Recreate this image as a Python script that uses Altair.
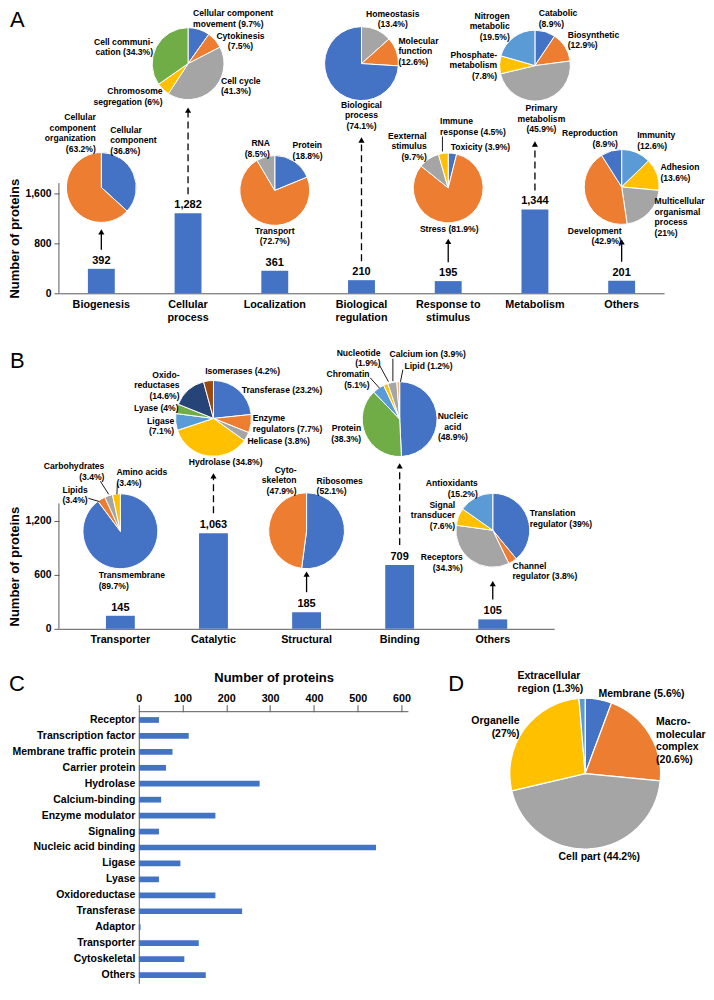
import altair as alt
import pandas as pd
import math

FONT = "Liberation Sans"

# ====================== DATA ======================
# ---- Panel A : biological process ----
a_categories = ["Biogenesis", "Cellular process", "Localization", "Biological regulation",
                "Response to stimulus", "Metabolism", "Others"]
a_counts = [392, 1282, 361, 210, 195, 1344, 201]
a_ticks = [0, 800, 1600]

biogenesis_slices = ["Cellular component", "Cellular component organization"]
biogenesis_pct = [36.8, 63.2]
cellproc_slices = ["Cellular component movement", "Cytokinesis", "Cell cycle",
                   "Chromosome segregation", "Cell communication"]
cellproc_pct = [9.7, 7.5, 41.3, 6, 34.3]
local_slices = ["Protein", "Transport", "RNA"]
local_pct = [18.8, 72.7, 8.5]
bioreg_slices = ["Homeostasis", "Molecular function", "Biological process"]
bioreg_pct = [13.4, 12.6, 74.1]
response_slices = ["Toxicity", "Stress", "Eexternal stimulus", "Immune response"]
response_pct = [3.9, 81.9, 9.7, 4.5]
metab_slices = ["Catabolic", "Biosynthetic", "Primary metabolism", "Phosphate-metabolism",
                "Nitrogen metabolic"]
metab_pct = [8.9, 12.9, 45.9, 7.8, 19.5]
aothers_slices = ["Immunity", "Adhesion", "Multicellular organismal process", "Development",
                  "Reproduction"]
aothers_pct = [12.6, 13.6, 21, 42.9, 8.9]

# ---- Panel B : molecular function ----
b_categories = ["Transporter", "Catalytic", "Structural", "Binding", "Others"]
b_counts = [145, 1063, 185, 709, 105]
b_ticks = [0, 600, 1200]

transp_slices = ["Transmembrane", "Lipids", "Carbohydrates", "Amino acids"]
transp_pct = [89.7, 3.4, 3.4, 3.4]
catal_slices = ["Transferase", "Enzyme regulators", "Helicase", "Hydrolase", "Ligase", "Lyase",
                "Oxidoreductases", "Isomerases"]
catal_pct = [23.2, 7.7, 3.8, 34.8, 7.1, 4, 14.6, 4.2]
struct_slices = ["Ribosomes", "Cytoskeleton"]
struct_pct = [52.1, 47.9]
binding_slices = ["Nucleic acid", "Protein", "Chromatin", "Nucleotide", "Calcium ion", "Lipid"]
binding_pct = [48.9, 38.3, 5.1, 1.9, 3.9, 1.2]
bothers_slices = ["Translation regulator", "Channel regulator", "Receptors", "Signal transducer",
                  "Antioxidants"]
bothers_pct = [39, 3.8, 34.3, 7.6, 15.2]

# ---- Panel C : protein class ----
c_categories = ["Receptor", "Transcription factor", "Membrane traffic protein", "Carrier protein",
                "Hydrolase", "Calcium-binding", "Enzyme modulator", "Signaling",
                "Nucleic acid binding", "Ligase", "Lyase", "Oxidoreductase", "Transferase",
                "Adaptor", "Transporter", "Cytoskeletal", "Others"]
c_counts = [46, 114, 77, 62, 276, 51, 175, 46, 542, 95, 46, 175, 236, 4, 137, 104, 153]
c_ticks = [0, 100, 200, 300, 400, 500, 600]
c_axis_max = 616

# ---- Panel D : cellular component ----
d_slices = ["Membrane", "Macromolecular complex", "Cell part", "Organelle", "Extracellular region"]
d_pct = [5.6, 20.6, 44.2, 27, 1.3]

# ====================== STYLE / LAYOUT ======================
BLUE = "#4472C4"; ORANGE = "#ED7D31"; GRAY = "#A5A5A5"; YELLOW = "#FFC000"
LBLUE = "#5B9BD5"; GREEN = "#70AD47"; NAVY = "#264478"; BROWN = "#9E480E"; PEACH = "#F4B183"
AXIS_GRAY = "#595959"

A_PIES = {
    "Biogenesis": (biogenesis_slices, biogenesis_pct),
    "Cellular process": (cellproc_slices, cellproc_pct),
    "Localization": (local_slices, local_pct),
    "Biological regulation": (bioreg_slices, bioreg_pct),
    "Response to stimulus": (response_slices, response_pct),
    "Metabolism": (metab_slices, metab_pct),
    "Others": (aothers_slices, aothers_pct),
}
B_PIES = {
    "Transporter": (transp_slices, transp_pct),
    "Catalytic": (catal_slices, catal_pct),
    "Structural": (struct_slices, struct_pct),
    "Binding": (binding_slices, binding_pct),
    "Others": (bothers_slices, bothers_pct),
}

# h: pie centre height above the bar baseline (px), r: radius (px)
# labels: (text, dx, dy, align) relative to the pie centre (dy = centre of text block)
# leaders: (x1, y1, x2, y2) short connector lines relative to the pie centre
A_LAYOUT = {
    "Biogenesis": dict(h=106, r=35, colors=[BLUE, ORANGE], labels=[
        ("Cellular\ncomponent\n({p}%)", 9, -47, "left"),
        ("Cellular\ncomponent\norganization\n({p}%)", -5.5, -54, "right")]),
    "Cellular process": dict(h=230, r=36, colors=[BLUE, ORANGE, GRAY, YELLOW, GREEN], labels=[
        ("Cellular component\nmovement ({p}%)", 5, -45, "left"),
        ("Cytokinesis\n({p}%)", 52.5, -22.5, "center"),
        ("Cell cycle\n({p}%)", 33, 22.7, "left"),
        ("Chromosome\nsegregation ({p}%)", -25.5, 33, "right"),
        ("Cell communi-\ncation ({p}%)", -35, -16.3, "right")]),
    "Localization": dict(h=103, r=35, colors=[BLUE, ORANGE, GRAY], labels=[
        ("Protein\n({p}%)", 17.8, -39.5, "left"),
        ("Transport\n({p}%)", 0, 45.7, "center"),
        ("RNA\n({p}%)", -4.8, -41.5, "right")]),
    "Biological regulation": dict(h=230, r=37, colors=[GRAY, ORANGE, BLUE], labels=[
        ("Homeostasis\n({p}%)", 31.3, -44.2, "center"),
        ("Molecular\nfunction\n({p}%)", 37, -12, "left"),
        ("Biological\nprocess\n({p}%)", 0, 52, "center")]),
    "Response to stimulus": dict(h=105.5, r=35, colors=[BLUE, ORANGE, GRAY, YELLOW], labels=[
        ("Toxicity ({p}%)", 2.5, -40.5, "left"),
        ("Stress ({p}%)", 1, 41, "center"),
        ("Eexternal\nstimulus\n({p}%)", -21.5, -41.5, "right"),
        ("Immune\nresponse ({p}%)", -8.2, -61.2, "left")],
        leaders=[(-5.8, -51.5, -5.8, -36.5)]),
    "Metabolism": dict(h=228, r=35.5, colors=[BLUE, ORANGE, GRAY, YELLOW, LBLUE], labels=[
        ("Catabolic\n({p}%)", 3.8, -46.7, "left"),
        ("Biosynthetic\n({p}%)", 32.8, -25.2, "left"),
        ("Primary\nmetabolism\n({p}%)", 6.5, 53.5, "center"),
        ("Phosphate-\nmetabolism\n({p}%)", -37.8, 0, "right"),
        ("Nitrogen\nmetabolic\n({p}%)", -25.2, -39, "right")]),
    "Others": dict(h=106.5, r=37.5, colors=[LBLUE, YELLOW, GRAY, ORANGE, BLUE], labels=[
        ("Immunity\n({p}%)", 15.5, -46, "left"),
        ("Adhesion\n({p}%)", 38.8, -14.3, "left"),
        ("Multicellular\norganismal\nprocess\n({p}%)", 33, 30.3, "left"),
        ("Development\n({p}%)", 0, 49.2, "right"),
        ("Reproduction\n({p}%)", -3.8, -48.3, "right")]),
}
B_LAYOUT = {
    "Transporter": dict(h=97.7, r=37.5, colors=[BLUE, ORANGE, GRAY, YELLOW], labels=[
        ("Transmembrane\n({p}%)", -21.7, 49.5, "left"),
        ("Lipids\n({p}%)", -32.7, -35.8, "right"),
        ("Carbohydrates\n({p}%)", -16, -59.7, "right"),
        ("Amino acids\n({p}%)", -4, -53.3, "left")],
        leaders=[(-32, -33, -21, -29.7), (-20, -50, -11.7, -37), (-3, -48, -3.5, -37)]),
    "Catalytic": dict(h=210.7, r=38, colors=[BLUE, ORANGE, GRAY, YELLOW, LBLUE, GREEN, NAVY, BROWN], labels=[
        ("Transferase ({p}%)", 28.3, -28.3, "left"),
        ("Enzyme\nregulators ({p}%)", 39.3, 5.3, "left"),
        ("Helicase ({p}%)", 34, 23.3, "left"),
        ("Hydrolase ({p}%)", 12.2, 44.3, "center"),
        ("Ligase\n({p}%)", -39.3, 8, "right"),
        ("Lyase ({p}%)", -35, -10, "right"),
        ("Oxido-\nreductases\n({p}%)", -34, -32.8, "right"),
        ("Isomerases ({p}%)", -8.3, -46.7, "left")]),
    "Structural": dict(h=98.2, r=38, colors=[BLUE, ORANGE], labels=[
        ("Ribosomes\n({p}%)", 10, -44.5, "left"),
        ("Cyto-\nskeleton\n({p}%)", -10, -50.3, "right")]),
    "Binding": dict(h=210, r=37.5, colors=[BLUE, GREEN, LBLUE, YELLOW, GRAY, PEACH], labels=[
        ("Nucleic\nacid\n({p}%)", 53.3, 7.9, "center"),
        ("Protein\n({p}%)", -38.5, 14.8, "right"),
        ("Chromatin\n({p}%)", -30.2, -39.4, "right"),
        ("Nucleotide\n({p}%)", -19.2, -60.7, "right"),
        ("Calcium ion ({p}%)", -10.2, -64.7, "left"),
        ("Lipid ({p}%)", 4.8, -52.4, "left")],
        leaders=[(-20.2, -54, -11.2, -37.4), (-29.5, -41.4, -20.2, -31),
                 (-6.8, -60.5, -6.8, -38), (3.2, -49.5, 0.8, -37.4)]),
    "Others": dict(h=98.7, r=37, colors=[BLUE, ORANGE, GRAY, YELLOW, LBLUE], labels=[
        ("Translation\nregulator ({p}%)", 37, -11.7, "left"),
        ("Channel\nregulator ({p}%)", 19.7, 41, "left"),
        ("Receptors\n({p}%)", -30, 32.7, "right"),
        ("Signal\ntransducer\n({p}%)", -37.7, -14.8, "right"),
        ("Antioxidants\n({p}%)", -15, -41.7, "right")]),
}
D_LAYOUT = dict(r=75.5, colors=[BLUE, ORANGE, GRAY, YELLOW, LBLUE], labels=[
    ("Membrane ({p}%)", 13.3, -79.3, "left"),
    ("Macro-\nmolecular\ncomplex\n({p}%)", 71, -32.2, "left"),
    ("Cell part ({p}%)", 14.1, 84, "center"),
    ("Organelle\n({p}%)", -65.7, -46, "right"),
    ("Extracellular\nregion ({p}%)", -67.7, -90.7, "left")])

# arrow tip distance below pie centre (px)
A_ARROWS = {"Biogenesis": 41, "Cellular process": 43, "Biological regulation": 73,
            "Response to stimulus": 50, "Metabolism": 75, "Others": 51.5}
B_ARROWS = {"Catalytic": 54, "Structural": 40, "Binding": 43.3, "Others": 50}

A_XLABELS = {"Cellular process": ["Cellular", "process"],
             "Biological regulation": ["Biological", "regulation"],
             "Response to stimulus": ["Response to", "stimulus"]}

A_GEOM = dict(W=606, H=284, pi=0.69, po=0.334, ppu=0.0625, axis_top=1765, arrow_base=19,
              letter=("A", -49, 17.5))
B_GEOM = dict(W=496, H=281, pi=0.69, po=0.505, ppu=0.09, axis_top=1395, arrow_base=20,
              letter=("B", -49, 20))

PIE_FS, PIE_LH = 8.6, 10.5
D_FS, D_LH = 10.5, 12.6
C_W, C_H, C_ROOM = 270, 272, 80     # plot width right of zero, height, label room left of zero
D_W, D_H, D_CY = 238, 172, 62       # panel D plot size and pie centre height below its top


def arc_rows(slices, pct, colors, extra):
    tot = float(sum(pct))
    rows, c = [], 0.0
    for s, p, col in zip(slices, pct, colors):
        r = dict(slice=s, t0=c / tot * 2 * math.pi, t1=(c + p) / tot * 2 * math.pi, col=col)
        r.update(extra)
        rows.append(r)
        c += p
    return rows


def label_layers(labels, pct, extra, fs, lh, enc):
    out = []
    for (tmpl, dx, dy, align), p in zip(labels, pct):
        n = tmpl.count("\n") + 1
        top = dy - ((n - 1) * lh + fs) / 2.0
        row = dict(txt=tmpl.format(p=f"{p:g}"))
        row.update(extra)
        out.append(alt.Chart(pd.DataFrame([row])).mark_text(
            align=align, baseline="top", lineBreak="\n", fontSize=fs, lineHeight=lh,
            fontWeight="bold", color="black", dx=dx, dy=top).encode(text="txt:N", **enc))
    return out


def leader_layers(leaders, extra, enc):
    out = []
    for (x1, y1, x2, y2) in leaders:
        hx, hy = (x2 - x1) / 2.0, (y2 - y1) / 2.0
        L = max(abs(hx), abs(hy))
        path = f"M{hx / L:.3f},{hy / L:.3f}L{-hx / L:.3f},{-hy / L:.3f}"
        out.append(alt.Chart(pd.DataFrame([extra])).mark_point(
            shape=path, size=4 * L * L, filled=False, color="black", strokeWidth=0.9,
            opacity=1, xOffset=(x1 + x2) / 2.0, yOffset=(y1 + y2) / 2.0).encode(**enc))
    return out


def label_expr(mapping):
    expr = "datum.label"
    for k, lines in mapping.items():
        arr = "[" + ", ".join("'" + l + "'" for l in lines) + "]"
        expr = f"datum.label == '{k}' ? {arr} : ({expr})"
    return expr


def letter_layer(letter, lx, ly):
    return alt.Chart(pd.DataFrame({"t": [letter]})).mark_text(
        align="left", baseline="alphabetic", fontSize=22, fontWeight="normal", color="black"
    ).encode(x=alt.value(lx), y=alt.value(ly), text="t:N")


def bar_panel(cats, counts, ticks, pies, layout, arrows, g, xlabels):
    W, H, pi, po, ppu = g["W"], g["H"], g["pi"], g["po"], g["ppu"]
    ymax = H / ppu
    xs = alt.Scale(domain=cats, paddingInner=pi, paddingOuter=po)
    ys = alt.Scale(domain=[0, ymax], nice=False, zero=True)
    xaxis = alt.Axis(title=None, labelAngle=0, ticks=False, labelExpr=label_expr(xlabels),
                     labelFontSize=10.8, labelFontWeight="bold", labelColor="black",
                     labelPadding=5, labelLineHeight=13, domainColor=AXIS_GRAY, labelLimit=200)
    yaxis = alt.Axis(values=ticks, labelExpr="format(datum.value, ',d')",
                     title="Number of proteins",
                     titleY=H - g["axis_top"] * ppu / 2, grid=False, domain=False, tickSize=5,
                     tickColor=AXIS_GRAY, labelFontSize=10.4, labelFontWeight="bold",
                     labelColor="black", labelPadding=3, titlePadding=3, titleFontSize=13,
                     titleFontWeight="bold", titleColor="black")

    def X(**kw):
        return alt.X("cat:N", sort=cats, scale=xs, axis=xaxis, **kw)

    def Y(field):
        return alt.Y(field, type="quantitative", scale=ys, stack=False, axis=yaxis)

    df = pd.DataFrame({"cat": cats, "count": counts})
    bars = alt.Chart(df).mark_bar(color=BLUE).encode(x=X(), y=Y("count"))
    vals = alt.Chart(df).mark_text(baseline="bottom", dy=-3, fontSize=11, fontWeight="bold",
                                   color="black").encode(
        x=X(bandPosition=0.5), y=Y("count"), text=alt.Text("count:Q", format=","))
    yline = alt.Chart(pd.DataFrame({"y0": [0], "y1": [g["axis_top"]]})).mark_rule(
        color=AXIS_GRAY, strokeWidth=1).encode(x=alt.value(0), y=Y("y0"), y2=alt.Y2("y1"))

    arcs, labs, leads = [], [], []
    for cat, (slices, pct) in pies.items():
        lay = layout[cat]
        extra = dict(cat=cat, yc=lay["h"] / ppu)
        enc = dict(x=X(bandPosition=0.5), y=Y("yc"))
        arcs.append(alt.Chart(pd.DataFrame(arc_rows(slices, pct, lay["colors"], extra))).mark_arc(
            outerRadius=lay["r"], stroke="white", strokeWidth=1).encode(
            theta=alt.Theta("t0:Q", scale=None, stack=False), theta2=alt.Theta2("t1"),
            color=alt.Color("col:N", scale=None), **enc))
        labs += label_layers(lay["labels"], pct, extra, PIE_FS, PIE_LH, enc)
        leads += leader_layers(lay.get("leaders", []), extra, enc)

    arows = []
    for cat, gap in arrows.items():
        i = cats.index(cat)
        bottom_px = counts[i] * ppu + g["arrow_base"]
        tip_px = layout[cat]["h"] - gap
        arows.append(dict(cat=cat, yb=bottom_px / ppu, yt=(tip_px - 5) / ppu,
                          ytri=(tip_px - 3.5) / ppu, dashed=(tip_px - bottom_px) > 30))
    adf = pd.DataFrame(arows)
    arrow_layers = []
    for dashed in (True, False):
        sub = adf[adf["dashed"] == dashed]
        if len(sub) == 0:
            continue
        mk = dict(color="black", strokeWidth=1.3)
        if dashed:
            mk["strokeDash"] = [7, 4]
        arrow_layers.append(alt.Chart(sub).mark_rule(**mk).encode(
            x=X(bandPosition=0.5), y=Y("yb"), y2=alt.Y2("yt")))
    arrow_layers.append(alt.Chart(adf).mark_point(
        shape="triangle-up", filled=True, size=38, color="black", opacity=1).encode(
        x=X(bandPosition=0.5), y=Y("ytri")))

    letter = letter_layer(*g["letter"])
    return alt.layer(bars, yline, *arcs, *leads, *labs, *arrow_layers, vals, letter).properties(
        width=W, height=H)


panel_a = bar_panel(a_categories, a_counts, a_ticks, A_PIES, A_LAYOUT, A_ARROWS, A_GEOM, A_XLABELS)
panel_b = bar_panel(b_categories, b_counts, b_ticks, B_PIES, B_LAYOUT, B_ARROWS, B_GEOM, {})

# ---- Panel C ----
c_ppu = C_W / c_axis_max
c_xs = alt.Scale(domain=[-C_ROOM / c_ppu, c_axis_max], nice=False, zero=False)
c_xaxis = alt.Axis(orient="top", values=c_ticks, title="Number of proteins",
                   titleX=C_ROOM + C_W / 2, titleFontSize=13, titleFontWeight="bold",
                   titleColor="black", titlePadding=8, labelFontSize=10.8,
                   labelFontWeight="bold", labelColor="black", tickSize=7, labelPadding=1,
                   grid=False, domain=False, tickColor=AXIS_GRAY)
c_yaxis = alt.Axis(title=None, ticks=False, labelFontSize=10.5, labelFontWeight="bold",
                   labelColor="black", labelPadding=4, domainColor=AXIS_GRAY, offset=-C_ROOM)
df_c = pd.DataFrame({"cat": c_categories, "count": c_counts})
c_bars = alt.Chart(df_c).mark_bar(color=BLUE).encode(
    x=alt.X("count:Q", scale=c_xs, axis=c_xaxis), x2=alt.X2(datum=0),
    y=alt.Y("cat:N", sort=c_categories,
            scale=alt.Scale(paddingInner=0.64, paddingOuter=0.34), axis=c_yaxis))
c_axisline = alt.Chart(pd.DataFrame({"a": [0], "b": [c_axis_max]})).mark_rule(
    color=AXIS_GRAY, strokeWidth=1).encode(
    x=alt.X("a:Q", scale=c_xs, axis=c_xaxis), x2=alt.X2("b"), y=alt.value(0))
panel_c = alt.layer(c_bars, c_axisline, letter_layer("C", -50, -21)).properties(
    width=C_ROOM + C_W, height=C_H)

# ---- Panel D ----
d_enc = dict(x=alt.value(D_W / 2), y=alt.value(D_CY))
d_arc = alt.Chart(pd.DataFrame(arc_rows(d_slices, d_pct, D_LAYOUT["colors"], {}))).mark_arc(
    outerRadius=D_LAYOUT["r"], stroke="white", strokeWidth=1.2).encode(
    theta=alt.Theta("t0:Q", scale=None, stack=False), theta2=alt.Theta2("t1"),
    color=alt.Color("col:N", scale=None), **d_enc)
d_labs = label_layers(D_LAYOUT["labels"], d_pct, {}, D_FS, D_LH, d_enc)
panel_d = alt.layer(d_arc, *d_labs, letter_layer("D", -18, -21)).properties(width=D_W, height=D_H)

chart = alt.concat(
    panel_a, panel_b, alt.hconcat(panel_c, panel_d, spacing=38),
    columns=1, spacing=26
).properties(padding=0).configure(font=FONT).configure_view(stroke=None)

chart.save("out.html", embed_options={"renderer": "svg", "actions": False})
